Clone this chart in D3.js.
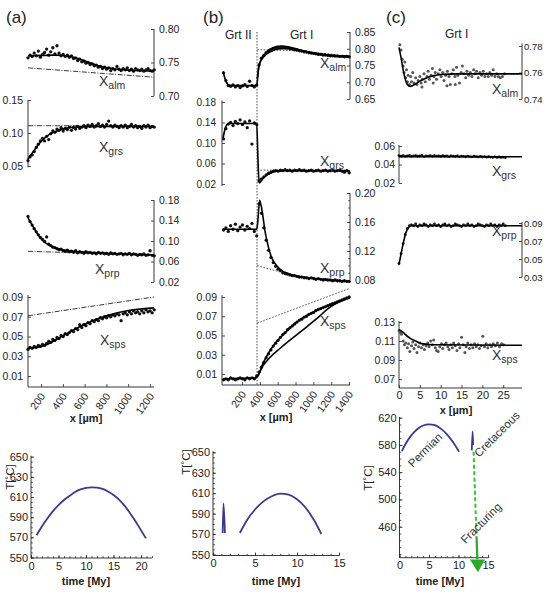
<!DOCTYPE html>
<html>
<head>
<meta charset="utf-8">
<script src="https://cdn.jsdelivr.net/npm/d3@7"></script>
<style>
  body { margin: 0; background: #fff; }
  text { font-family: "Liberation Sans", Arial, Helvetica, sans-serif; }
</style>
</head>
<body>
<svg id="fig" width="546" height="611"></svg>
<script>
// ---------------- data: panel (a), traverse positions in µm ----------------
const xScanA = d3.range(80, 1240, 19);
const almA = [0.757,0.761,0.759,0.764,0.760,0.767,0.758,0.762,0.765,0.770,
  0.761,0.766,0.772,0.763,0.775,0.764,0.760,0.762,0.759,0.761,
  0.758,0.760,0.756,0.757,0.753,0.755,0.751,0.752,0.749,0.750,
  0.747,0.748,0.745,0.746,0.743,0.744,0.741,0.743,0.740,0.742,
  0.738,0.741,0.739,0.744,0.740,0.738,0.741,0.739,0.742,0.738,
  0.740,0.737,0.741,0.739,0.738,0.740,0.737,0.739,0.741,0.738,
  0.737,0.739];
const grsA = [0.058,0.064,0.067,0.072,0.078,0.083,0.088,0.092,0.088,0.095,
  0.090,0.099,0.103,0.101,0.106,0.104,0.108,0.103,0.107,0.105,
  0.109,0.104,0.108,0.106,0.110,0.107,0.109,0.111,0.108,0.112,
  0.110,0.113,0.109,0.111,0.114,0.110,0.112,0.109,0.113,0.118,
  0.111,0.109,0.112,0.110,0.108,0.111,0.109,0.112,0.108,0.110,
  0.113,0.109,0.111,0.108,0.110,0.107,0.111,0.109,0.112,0.108,
  0.110,0.109];
const prpA = [0.148,0.138,0.131,0.124,0.118,0.112,0.107,0.103,0.099,0.108,
  0.094,0.091,0.088,0.087,0.085,0.083,0.084,0.081,0.080,0.082,
  0.079,0.080,0.078,0.081,0.077,0.079,0.078,0.076,0.079,0.077,
  0.078,0.076,0.077,0.075,0.078,0.076,0.077,0.075,0.076,0.074,
  0.077,0.075,0.076,0.074,0.075,0.076,0.073,0.075,0.074,0.076,
  0.073,0.075,0.074,0.072,0.074,0.073,0.075,0.072,0.073,0.081,
  0.072,0.071];
const spsA = [0.037,0.039,0.038,0.040,0.039,0.041,0.040,0.042,0.041,0.043,
  0.045,0.044,0.047,0.046,0.049,0.048,0.051,0.050,0.053,0.052,
  0.054,0.056,0.055,0.058,0.057,0.062,0.059,0.062,0.061,0.064,
  0.063,0.066,0.065,0.067,0.066,0.069,0.068,0.070,0.069,0.071,
  0.070,0.072,0.071,0.073,0.072,0.066,0.073,0.074,0.072,0.075,
  0.073,0.076,0.074,0.075,0.073,0.076,0.074,0.077,0.075,0.076,
  0.074,0.077];
const almFitA = [[80,0.760],[327,0.761],[469,0.759],[611,0.752],[753,0.744],[896,0.740],[1085,0.738],[1237,0.737]];
const almInitA = [[80,0.742],[1237,0.728]];
const grsFitA = [[80,0.060],[137,0.074],[194,0.086],[251,0.095],[327,0.102],[421,0.107],[564,0.1095],[801,0.110],[1237,0.110]];
const grsInitA = [[80,0.111],[1237,0.111]];
const prpFitA = [[80,0.145],[137,0.124],[194,0.106],[251,0.095],[327,0.087],[421,0.082],[564,0.079],[801,0.076],[1237,0.073]];
const prpInitA = [[80,0.080],[1237,0.072]];
const spsFitA = [[80,0.038],[232,0.041],[421,0.052],[611,0.063],[801,0.071],[990,0.076],[1133,0.078],[1237,0.079]];
const spsInitA = [[80,0.071],[1237,0.090]];

// ---------------- data: panel (b), Grt II (first 15) then Grt I ----------------
const xScanB = d3.range(-8, 1405, 26.6);
const boundaryB = 368;
const almB = [0.728,0.705,0.690,0.688,0.692,0.686,0.690,0.684,0.689,0.693,0.687,0.703,0.690,0.686,0.692,
  0.752,0.772,0.780,0.788,0.793,0.797,0.800,0.802,0.804,0.803,
  0.805,0.803,0.802,0.800,0.799,0.797,0.796,0.794,0.793,0.791,
  0.790,0.788,0.787,0.786,0.785,0.783,0.783,0.781,0.781,0.780,
  0.779,0.779,0.778,0.778,0.777,0.777,0.776,0.777,0.776];
const grsB = [0.108,0.128,0.137,0.140,0.134,0.142,0.138,0.145,0.136,0.141,0.130,0.143,0.098,0.139,0.136,
  0.026,0.030,0.034,0.038,0.041,0.043,0.045,0.046,0.045,0.047,
  0.046,0.048,0.046,0.047,0.045,0.047,0.046,0.048,0.046,0.047,
  0.045,0.046,0.047,0.045,0.046,0.047,0.045,0.046,0.047,0.045,
  0.046,0.047,0.045,0.046,0.047,0.045,0.043,0.046,0.042];
const prpB = [0.149,0.152,0.147,0.155,0.150,0.157,0.148,0.153,0.156,0.149,0.154,0.151,0.158,0.147,0.141,
  0.185,0.172,0.152,0.135,0.121,0.111,0.104,0.099,0.095,0.093,
  0.090,0.089,0.088,0.087,0.086,0.086,0.085,0.084,0.084,0.083,
  0.083,0.082,0.083,0.082,0.081,0.082,0.081,0.080,0.081,0.080,
  0.080,0.079,0.080,0.079,0.079,0.078,0.079,0.078,0.078];
const spsB = [0.004,0.005,0.004,0.006,0.005,0.004,0.005,0.006,0.005,0.004,0.006,0.005,0.006,0.005,0.008,
  0.012,0.017,0.022,0.027,0.031,0.035,0.039,0.042,0.045,0.048,
  0.051,0.053,0.056,0.058,0.060,0.062,0.064,0.066,0.067,0.069,
  0.070,0.072,0.073,0.074,0.076,0.077,0.078,0.079,0.080,0.081,
  0.082,0.083,0.084,0.085,0.086,0.087,0.088,0.089,0.090];
const almFitB = [[-13,0.732],[24,0.700],[67,0.690],[365,0.690],[370,0.700],[386,0.745],[418,0.770],[472,0.790],[546,0.803],[631,0.808],[717,0.806],[844,0.797],[1004,0.787],[1164,0.781],[1409,0.777]];
const almFit2B = [[370,0.710],[397,0.755],[440,0.775],[525,0.792],[631,0.800],[738,0.801],[898,0.793],[1057,0.785],[1409,0.777]];
const almInitB = [[370,0.797],[695,0.795],[1409,0.777]];
const grsFitB = [[-13,0.110],[14,0.130],[46,0.138],[365,0.138],[376,0.080],[392,0.022],[440,0.032],[525,0.042],[631,0.046],[1409,0.046]];
const grsInitB = [[370,0.047],[1409,0.047]];
const prpFitB = [[-13,0.150],[365,0.150],[376,0.160],[397,0.190],[418,0.180],[461,0.145],[525,0.113],[610,0.097],[738,0.088],[951,0.083],[1164,0.080],[1409,0.078]];
const prpInitB = [[370,0.100],[738,0.088],[1409,0.079]];
const spsFitB = [[-13,0.005],[354,0.006],[386,0.010],[440,0.022],[525,0.036],[631,0.048],[738,0.058],[844,0.066],[951,0.072],[1057,0.077],[1164,0.081],[1270,0.085],[1409,0.090]];
const spsFit2B = [[354,0.006],[386,0.009],[418,0.016],[482,0.024],[631,0.037],[844,0.053],[1057,0.069],[1164,0.078],[1270,0.084],[1409,0.089]];
const spsInitB = [[370,0.063],[1409,0.099]];

// ---------------- data: panel (c), short traverse in µm ----------------
const xScanC = d3.range(0, 26, 0.5);
const almC = [[0.2,0.781],[0.5,0.777],[0.8,0.770],[1.0,0.765],[1.2,0.760],[1.4,0.768],[1.6,0.756],[1.8,0.762],
  [2.0,0.753],[2.2,0.758],[2.5,0.751],[2.8,0.757],[3.0,0.753],[3.3,0.760],[3.6,0.752],[4.0,0.756],[4.3,0.751],
  [4.6,0.754],[5.0,0.757],[5.3,0.752],[5.5,0.749],[5.6,0.755],[6.0,0.759],[6.3,0.753],[6.7,0.757],[7.0,0.761],
  [7.3,0.755],[7.7,0.758],[8.0,0.763],[8.2,0.752],[8.4,0.757],[8.7,0.760],[9.0,0.755],[9.4,0.759],[9.8,0.762],
  [10.1,0.757],[10.5,0.760],[10.8,0.754],[11.2,0.758],[11.5,0.750],[11.6,0.761],[12.0,0.757],[12.3,0.751],
  [12.7,0.759],[13.0,0.762],[13.4,0.757],[13.5,0.751],[13.8,0.764],[14.1,0.758],[14.5,0.752],[14.9,0.760],
  [15.2,0.765],[15.6,0.759],[16.0,0.756],[16.3,0.761],[16.7,0.758],[17.1,0.760],[17.5,0.757],[17.9,0.762],
  [18.2,0.759],[18.6,0.761],[19.0,0.756],[19.4,0.760],[19.8,0.758],[20.2,0.761],[20.6,0.757],[21.0,0.759],
  [21.4,0.757],[21.8,0.760],[22.2,0.758],[22.6,0.762],[23.0,0.757],[23.4,0.759],[23.8,0.757],[24.3,0.756],
  [24.8,0.757],[25.3,0.759]];
const grsC = [0.0495,0.0490,0.0497,0.0488,0.0494,0.0499,0.0487,0.0493,0.0496,0.0489,
  0.0492,0.0498,0.0486,0.0494,0.0491,0.0497,0.0488,0.0495,0.0490,0.0493,
  0.0487,0.0496,0.0489,0.0492,0.0486,0.0494,0.0490,0.0487,0.0493,0.0485,
  0.0491,0.0488,0.0484,0.0490,0.0486,0.0483,0.0489,0.0485,0.0482,0.0487,
  0.0481,0.0486,0.0479,0.0484,0.0480,0.0478,0.0483,0.0477,0.0481,0.0476,
  0.0479,0.0475];
const prpC = [0.045,0.056,0.067,0.077,0.084,0.087,0.088,0.087,0.089,0.086,
  0.088,0.087,0.089,0.088,0.086,0.088,0.087,0.089,0.087,0.088,
  0.086,0.088,0.089,0.087,0.088,0.086,0.087,0.089,0.088,0.087,
  0.086,0.088,0.087,0.089,0.087,0.088,0.086,0.087,0.089,0.088,
  0.087,0.086,0.088,0.087,0.089,0.087,0.088,0.086,0.088,0.087,
  0.089,0.087];
const spsC = [[0,0.121],[0.3,0.119],[0.6,0.117],[1.0,0.110],[1.3,0.106],[1.6,0.108],[2.0,0.103],[2.3,0.107],
  [2.6,0.099],[3.0,0.105],[3.3,0.109],[3.6,0.102],[4.0,0.106],[4.3,0.098],[4.7,0.104],[5.0,0.108],[5.4,0.103],
  [5.8,0.106],[6.1,0.101],[6.5,0.105],[6.9,0.108],[7.2,0.104],[7.6,0.110],[8.0,0.106],[8.3,0.111],[8.7,0.103],
  [9.0,0.100],[9.4,0.099],[9.8,0.104],[10.2,0.107],[10.5,0.102],[10.9,0.106],[11.3,0.108],[11.7,0.104],
  [12.0,0.101],[12.4,0.106],[12.8,0.103],[13.1,0.108],[13.5,0.105],[13.9,0.100],[14.3,0.107],[14.6,0.103],
  [15.0,0.114],[15.4,0.106],[15.8,0.098],[16.1,0.104],[16.5,0.108],[16.9,0.102],[17.3,0.106],[17.7,0.103],
  [18.1,0.107],[18.5,0.104],[18.9,0.106],[19.3,0.102],[19.7,0.105],[20.1,0.115],[20.5,0.104],[20.9,0.107],
  [21.3,0.103],[21.8,0.106],[22.2,0.104],[22.6,0.107],[23.1,0.105],[23.6,0.108],[24.1,0.104],[24.6,0.107],
  [25.1,0.106]];
const almFitC = [[0,0.779],[0.5,0.771],[1,0.762],[1.5,0.755],[2,0.751],[2.7,0.7495],[3.5,0.7505],[5,0.7535],[7,0.7565],[10,0.7585],[14,0.759],[29.5,0.759]];
const grsFitC = [[0,0.0484],[29.5,0.0484]];
const prpFitC = [[0,0.044],[0.5,0.056],[1,0.067],[1.5,0.077],[2,0.083],[2.5,0.086],[3,0.087],[29.5,0.087]];
const spsFitC = [[0,0.122],[1,0.119],[2,0.115],[3,0.112],[4,0.110],[5,0.108],[6,0.107],[8,0.106],[29.5,0.1055]];

// ---------------- data: temperature histories ----------------
const tempA = [[1.0,572],[2,581],[3,589],[4,596],[5,602],[6,607],[7,611],[8,615],[9,617.5],[10,619],[11,619.6],
  [12,619.3],[13,618],[14,615.5],[15,612],[16,607.5],[17,601.5],[18,594],[19,586],[20,577],[20.9,569]];
const tempB1 = [[1.15,571],[1.25,600],[1.42,571]];
const tempB2 = [[3.2,571],[4,583],[5,594],[6,602],[7,607],[8,609.5],[9,608.5],[10,604],[11,596],[12,584],[12.9,570]];
const tempPermian = [[0.4,571],[1,581],[2,594],[3,603],[4,608.5],[5,610.3],[6,609],[7,604],[8,596],[9,585],[10.1,570]];
const tempCretaceous = [[12.25,572],[12.4,600],[12.48,580]];
const fractureDash = [[12.55,570],[13.05,446]];
const fractureSolid = [[13.05,446],[13.2,412]];
const fractureTip = [13.3, 393];

// tick labels
const xTicksA = [200, 400, 600, 800, 1000, 1200];
const xTicksB = [200, 400, 600, 800, 1000, 1200, 1400];
const xTicksC = [0, 5, 10, 15, 20, 25];
const tTicksA = [0, 5, 10, 15, 20];
const tTicksBC = [0, 5, 10, 15];
const TTicksAB = [550, 570, 590, 610, 630, 650];
const TTicksC = [460, 500, 540, 580, 620];

// ---------------- drawing ----------------
const INK = "#222";
const FONT = '"Liberation Sans", Arial, Helvetica, sans-serif';
const svg = d3.select("#fig");

function lineGen(x, y) {
  return d3.line().x(d => x(d[0])).y(d => y(d[1])).curve(d3.curveMonotoneX);
}

function styleAxis(a, fs) {
  a.select(".domain").remove();
  a.selectAll(".tick line").attr("stroke", INK).attr("stroke-width", 0.8);
  a.selectAll("text").attr("font-size", fs).attr("fill", INK).attr("font-family", FONT);
}

function yAxis(g, y, o) {
  const mk = o.side === "left" ? d3.axisLeft : d3.axisRight;
  const a = g.append("g").attr("transform", `translate(${o.at},0)`)
    .call(mk(y).tickValues(o.ticks).tickFormat(o.fmt || d3.format(".2f"))
      .tickSizeInner(-3).tickSizeOuter(0).tickPadding(o.pad || 5));
  styleAxis(a, o.fs || 10.5);
  a.append("line").attr("y1", y(o.extent[0])).attr("y2", y(o.extent[1]))
    .attr("stroke", INK).attr("stroke-width", 0.9);
  if (o.minor) {
    const m = g.append("g").attr("transform", `translate(${o.at},0)`)
      .call(mk(y).tickValues(o.minor).tickFormat("").tickSizeInner(-1.8).tickSizeOuter(0));
    styleAxis(m, 1);
  }
}

function xAxis(g, x, o) {
  const a = g.append("g").attr("transform", `translate(0,${o.at})`)
    .call(d3.axisBottom(x).tickValues(o.ticks).tickFormat(d3.format("d"))
      .tickSizeInner(-3).tickSizeOuter(0).tickPadding(o.pad || 3));
  styleAxis(a, o.fs || 10.5);
  a.append("line").attr("x1", x(o.extent[0])).attr("x2", x(o.extent[1]))
    .attr("stroke", INK).attr("stroke-width", 0.9);
  if (o.rotate) {
    a.selectAll(".tick text").attr("y", 0).attr("dy", "0.35em").attr("text-anchor", "end")
      .attr("transform", `translate(1,7) rotate(${o.rotate})`);
  }
  if (o.minor) {
    const m = g.append("g").attr("transform", `translate(0,${o.at})`)
      .call(d3.axisBottom(x).tickValues(o.minor).tickFormat("").tickSizeInner(-1.8).tickSizeOuter(0));
    styleAxis(m, 1);
  }
}

function subLabel(g, px, py, base, sub) {
  const t = g.append("text").attr("x", px).attr("y", py).attr("fill", "#333");
  t.append("tspan").attr("font-size", 14).text(base);
  t.append("tspan").attr("font-size", 10.5).attr("dy", 3).text(sub);
}

function profile(o) {
  const y = d3.scaleLinear().domain(o.yDom).range(o.yRange);
  const x = o.x;
  const g = svg.append("g");
  yAxis(g, y, o.axis);
  (o.refs || []).forEach(r => {
    g.append("path").datum(r.pts).attr("d", lineGen(x, y)).attr("fill", "none")
      .attr("stroke", INK).attr("stroke-width", r.w).attr("stroke-dasharray", r.dash);
  });
  g.append("g").selectAll("circle").data(o.pts).join("circle")
    .attr("cx", d => x(d[0])).attr("cy", d => y(d[1]))
    .attr("r", o.r || 1.65).attr("fill", o.dot || "#111");
  o.fits.forEach(f => {
    g.append("path").datum(f).attr("d", lineGen(x, y)).attr("fill", "none")
      .attr("stroke", "#000").attr("stroke-width", 1.6);
  });
  subLabel(g, o.label[0], o.label[1], "X", o.label[2]);
  return { g, y };
}

const dashDot = { w: 0.9, dash: "5,1.5,1,1.5" };
const dotted = { w: 0.8, dash: "1.6,1.6" };

// ----- panel (a) -----
const xA = d3.scaleLinear().domain([80, 1237]).range([28, 154]);
profile({ x: xA, yDom: [0.70, 0.80], yRange: [96, 29], pts: d3.zip(xScanA, almA),
  axis: { side: "right", at: 154, ticks: [0.70, 0.75, 0.80], extent: [0.70, 0.80] },
  refs: [{ pts: almInitA, ...dashDot }], fits: [almFitA], label: [99, 86, "alm"] });
profile({ x: xA, yDom: [0.05, 0.15], yRange: [166, 100], pts: d3.zip(xScanA, grsA),
  axis: { side: "left", at: 28, ticks: [0.05, 0.10, 0.15], extent: [0.048, 0.15] },
  refs: [{ pts: grsInitA, ...dashDot }], fits: [grsFitA], label: [99, 152, "grs"] });
profile({ x: xA, yDom: [0.02, 0.18], yRange: [282, 200], pts: d3.zip(xScanA, prpA),
  axis: { side: "right", at: 154, ticks: [0.02, 0.06, 0.10, 0.14, 0.18], extent: [0.02, 0.18] },
  refs: [{ pts: prpInitA, ...dashDot }], fits: [prpFitA], label: [95, 274, "prp"] });
const spsPA = profile({ x: xA, yDom: [0.01, 0.09], yRange: [376, 297], pts: d3.zip(xScanA, spsA),
  axis: { side: "left", at: 28, ticks: [0.01, 0.03, 0.05, 0.07, 0.09], extent: [-0.0011, 0.092] },
  refs: [{ pts: spsInitA, ...dashDot }], fits: [spsFitA], label: [100, 345, "sps"] });
xAxis(spsPA.g, xA, { at: 387, ticks: xTicksA, extent: [80, 1237], rotate: -55 });

// ----- panel (b) -----
const xB = d3.scaleLinear().domain([-25, 1411]).range([222, 350]);
profile({ x: xB, yDom: [0.65, 0.85], yRange: [99, 32], pts: d3.zip(xScanB, almB),
  axis: { side: "right", at: 350, ticks: [0.65, 0.70, 0.75, 0.80, 0.85], extent: [0.65, 0.85] },
  refs: [{ pts: almInitB, ...dotted }], fits: [almFitB, almFit2B], label: [320, 68, "alm"] });
profile({ x: xB, yDom: [0.02, 0.18], yRange: [184, 102], pts: d3.zip(xScanB, grsB),
  axis: { side: "left", at: 222, ticks: [0.02, 0.06, 0.10, 0.14, 0.18], extent: [0.016, 0.183], pad: 6, fs: 10 },
  refs: [{ pts: grsInitB, ...dotted }], fits: [grsFitB], label: [320, 166, "grs"] });
profile({ x: xB, yDom: [0.08, 0.20], yRange: [280, 193], pts: d3.zip(xScanB, prpB),
  axis: { side: "right", at: 350, ticks: [0.08, 0.12, 0.16, 0.20], extent: [0.08, 0.20],
    minor: d3.range(0.09, 0.20, 0.01) },
  refs: [{ pts: prpInitB, ...dotted }], fits: [prpFitB], label: [320, 273, "prp"] });
const spsPB = profile({ x: xB, yDom: [0.01, 0.09], yRange: [374, 297], pts: d3.zip(xScanB, spsB),
  axis: { side: "left", at: 222, ticks: [0.01, 0.03, 0.05, 0.07, 0.09], extent: [-0.0014, 0.092] },
  refs: [{ pts: spsInitB, ...dotted }], fits: [spsFitB, spsFit2B], label: [320, 326, "sps"] });
xAxis(spsPB.g, xB, { at: 385, ticks: xTicksB, extent: [-25, 1411], rotate: -55 });
svg.append("line").attr("x1", xB(boundaryB)).attr("x2", xB(boundaryB)).attr("y1", 32).attr("y2", 385)
  .attr("stroke", INK).attr("stroke-width", 0.8).attr("stroke-dasharray", "1.5,1.5");

// ----- panel (c) -----
const xC = d3.scaleLinear().domain([0, 29.5]).range([399, 522]);
profile({ x: xC, yDom: [0.74, 0.78], yRange: [99, 46], pts: almC, r: 1.5, dot: "#555",
  axis: { side: "right", at: 522, ticks: [0.74, 0.76, 0.78], extent: [0.74, 0.782], pad: 2, fs: 9.5 },
  fits: [almFitC], label: [492, 94, "alm"] });
profile({ x: xC, yDom: [0.02, 0.06], yRange: [183, 146], pts: d3.zip(xScanC, grsC), r: 1.4,
  axis: { side: "left", at: 399, ticks: [0.02, 0.04, 0.06], extent: [0.02, 0.061], pad: 4 },
  fits: [grsFitC], label: [492, 176, "grs"] });
profile({ x: xC, yDom: [0.03, 0.09], yRange: [277, 223], pts: d3.zip(xScanC, prpC), r: 1.4,
  axis: { side: "right", at: 522, ticks: [0.03, 0.05, 0.07, 0.09], extent: [0.03, 0.091], pad: 2, fs: 9.5 },
  fits: [prpFitC], label: [492, 236, "prp"] });
const spsPC = profile({ x: xC, yDom: [0.07, 0.13], yRange: [379, 322], pts: spsC, r: 1.5, dot: "#555",
  axis: { side: "left", at: 399, ticks: [0.07, 0.09, 0.11, 0.13], extent: [0.0605, 0.131], pad: 4 },
  fits: [spsFitC], label: [492, 360, "sps"] });
xAxis(spsPC.g, xC, { at: 388, ticks: xTicksC, extent: [0, 29.5], fs: 11 });

// panel titles and zone names
const titles = [["(a)", 6, 23, 17], ["(b)", 203, 23, 17], ["(c)", 386, 23, 17],
  ["Grt II", 225, 39, 12], ["Grt I", 290, 39, 12], ["Grt I", 445, 38, 12]];
titles.forEach(([t, px, py, fs]) => svg.append("text").attr("x", px).attr("y", py)
  .attr("font-size", fs).attr("fill", "#222").text(t));
[["x [µm]", 86, 422], ["x [µm]", 276, 421], ["x [µm]", 456, 414]].forEach(([t, px, py]) =>
  svg.append("text").attr("x", px).attr("y", py).attr("text-anchor", "middle")
    .attr("font-size", 11).attr("font-weight", "bold").attr("fill", "#222").text(t));

// ----- temperature histories -----
function tPlot(o) {
  const x = d3.scaleLinear().domain(o.xDom).range(o.xRange);
  const y = d3.scaleLinear().domain(o.yDom).range(o.yRange);
  const g = svg.append("g");
  yAxis(g, y, { side: "left", at: o.xRange[0], ticks: o.yTicks, extent: o.yExtent,
    fmt: d3.format("d"), fs: 11, pad: 3, minor: o.yMinor });
  xAxis(g, x, { at: y(o.yExtent[0]), ticks: o.xTicks, extent: o.xDom, fs: 11, pad: 4, minor: o.xMinor });
  o.curves.forEach(c => g.append("path").datum(c).attr("d", lineGen(x, y)).attr("fill", "none")
    .attr("stroke", "#3b3a8d").attr("stroke-width", 1.8));
  g.append("text").attr("transform", `translate(${o.yLab[0]},${o.yLab[1]}) rotate(-90)`)
    .attr("text-anchor", "middle").attr("font-size", 11.5).attr("fill", "#222").text("T[˚C]");
  g.append("text").attr("x", o.xLab[0]).attr("y", o.xLab[1]).attr("text-anchor", "middle")
    .attr("font-size", 11).attr("font-weight", "bold").attr("fill", "#222").text("time [My]");
  return { g, x, y };
}

tPlot({ xDom: [0, 22], xRange: [31, 152], yDom: [550, 650], yRange: [557.5, 456.7], yExtent: [549.5, 651],
  xTicks: tTicksA, yTicks: TTicksAB, xMinor: d3.range(0, 23, 1), yMinor: d3.range(550, 651, 5),
  curves: [tempA], yLab: [14, 477], xLab: [86, 585] });
tPlot({ xDom: [0, 15], xRange: [213, 339], yDom: [550, 650], yRange: [554.5, 452.3], yExtent: [549, 651],
  xTicks: tTicksBC, yTicks: TTicksAB, xMinor: d3.range(0, 16, 1), yMinor: d3.range(550, 651, 5),
  curves: [tempB1, tempB2], yLab: [190, 462], xLab: [276, 585] });
const tc = tPlot({ xDom: [0, 15], xRange: [399.5, 488], yDom: [460, 620], yRange: [526.7, 417.7], yExtent: [414.5, 621],
  xTicks: tTicksBC, yTicks: TTicksC, xMinor: d3.range(0, 16, 1), yMinor: d3.range(420, 621, 10),
  curves: [tempPermian, tempCretaceous], yLab: [372, 478], xLab: [440, 585] });

// fracturing arrow
const straight = d3.line().x(d => tc.x(d[0])).y(d => tc.y(d[1]));
tc.g.append("path").datum(fractureDash).attr("d", straight).attr("fill", "none")
  .attr("stroke", "#3cbf3c").attr("stroke-width", 2).attr("stroke-dasharray", "4,2.5");
tc.g.append("path").datum(fractureSolid).attr("d", straight).attr("fill", "none")
  .attr("stroke", "#2aa92a").attr("stroke-width", 2.2);
const base = fractureSolid[1];
const bx = tc.x(base[0]), by = tc.y(base[1]);
tc.g.append("path")
  .attr("d", `M${bx - 7.5},${by}L${bx + 7.5},${by}L${tc.x(fractureTip[0])},${tc.y(fractureTip[1])}Z`)
  .attr("fill", "#2aa92a");

[["Permian", 425, 450], ["Cretaceous", 497, 434], ["Fracturing", 481, 523]].forEach(([t, px, py]) =>
  tc.g.append("text").attr("transform", `translate(${px},${py}) rotate(-45)`)
    .attr("text-anchor", "middle").attr("dy", "0.35em").attr("font-size", 11.5).attr("fill", "#333").text(t));
</script>
</body>
</html>
